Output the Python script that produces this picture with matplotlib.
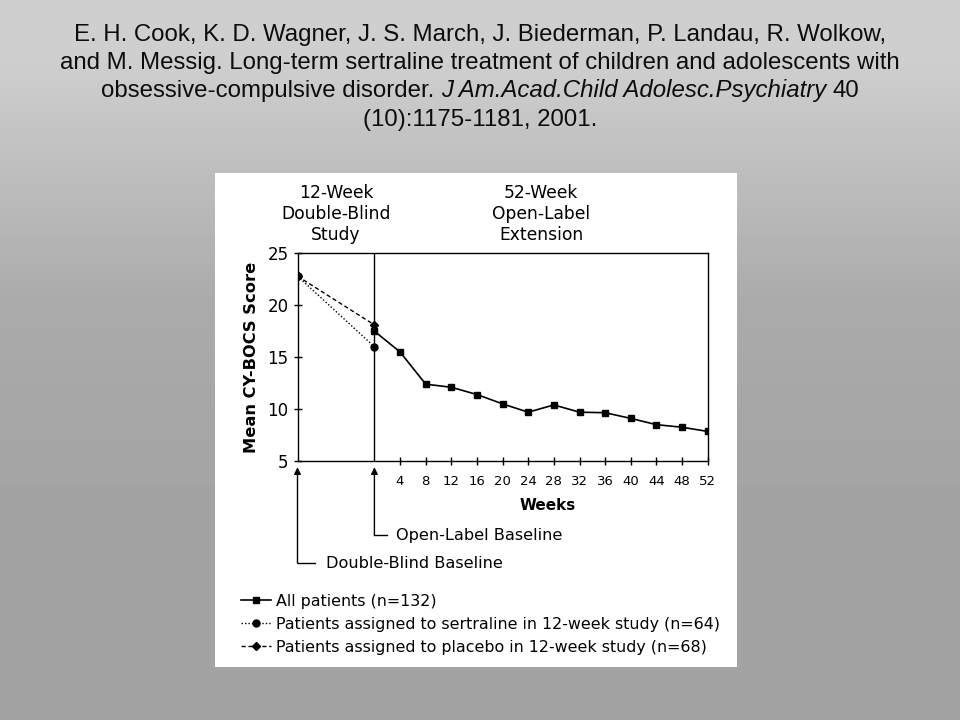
import matplotlib
matplotlib.use("Agg")
import matplotlib.pyplot as plt
from matplotlib.patches import Rectangle
import numpy as np

plt.rcParams['font.family'] = ['Liberation Sans', 'DejaVu Sans']

# values
weeks_all = [0, 4, 8, 12, 16, 20, 24, 28, 32, 36, 40, 44, 48, 52]
score_all = [17.5, 15.5, 12.4, 12.1, 11.4, 10.5, 9.7, 10.4, 9.7, 9.65, 9.1, 8.5, 8.25, 7.85]
weeks_db = [-12, 0]
score_sertraline = [22.8, 16.0]
score_placebo = [22.8, 18.1]

xticks = [4, 8, 12, 16, 20, 24, 28, 32, 36, 40, 44, 48, 52]
yticks = [5, 10, 15, 20, 25]

label_all = "All patients (n=132)"
label_sert = "Patients assigned to sertraline in 12-week study (n=64)"
label_plac = "Patients assigned to placebo in 12-week study (n=68)"

title_1 = "E. H. Cook, K. D. Wagner, J. S. March, J. Biederman, P. Landau, R. Wolkow,"
title_2 = "and M. Messig. Long-term sertraline treatment of children and adolescents with"
title_3a = "obsessive-compulsive disorder."
title_3b = "J Am.Acad.Child Adolesc.Psychiatry"
title_3c = "40"
title_4 = "(10):1175-1181, 2001."

W, H = 960, 720
fig = plt.figure(figsize=(9.6, 7.2), dpi=100)

# grey slide background
bg = fig.add_axes([0, 0, 1, 1], zorder=-5)
grad = np.array([[0.81], [0.74], [0.67], [0.65], [0.64], [0.64]])
bg.imshow(grad, cmap='gray', vmin=0, vmax=1, aspect='auto', extent=[0, 1, 0, 1],
          interpolation='bilinear')
bg.axis('off')

# white panel of the scanned figure
fig.add_artist(Rectangle((215 / W, 1 - 667 / H), (737 - 215) / W, (667 - 173) / H,
                         transform=fig.transFigure, facecolor='white',
                         edgecolor='none', zorder=-1))

# citation lines
tfs = 17.3
tc = '#0d0d0d'
fig.text(0.5, 1 - 41 / H, title_1, ha='center', va='baseline', fontsize=tfs, color=tc)
fig.text(0.5, 1 - 69 / H, title_2, ha='center', va='baseline', fontsize=tfs, color=tc)
fig.text(0.5, 1 - 126 / H, title_4, ha='center', va='baseline', fontsize=tfs, color=tc)

t3a = fig.text(0, 1 - 97 / H, title_3a, ha='left', va='baseline', fontsize=tfs, color=tc)
t3b = fig.text(0, 1 - 97 / H, title_3b, ha='left', va='baseline', fontsize=tfs,
               style='italic', color=tc)
t3c = fig.text(0, 1 - 97 / H, title_3c, ha='left', va='baseline', fontsize=tfs, color=tc)
r = fig.canvas.get_renderer()
wa = t3a.get_window_extent(r).width
wb = t3b.get_window_extent(r).width
wc = t3c.get_window_extent(r).width
tmp = fig.text(0, 0, "x x", fontsize=tfs)
tmp2 = fig.text(0, 0, "xx", fontsize=tfs)
sp = tmp.get_window_extent(r).width - tmp2.get_window_extent(r).width
tmp.remove()
tmp2.remove()
x0 = W / 2 - (wa + wb + wc + 2 * sp) / 2
t3a.set_x(x0 / W)
t3b.set_x((x0 + wa + sp) / W)
t3c.set_x((x0 + wa + wb + 2 * sp) / W)

# main axes (scanned figure uses a wide sans face)
cf = 'DejaVu Sans'
ax = fig.add_axes([297.5 / W, 1 - 461 / H, 410.2 / W, 207.7 / H])
ax.set_facecolor('white')

ax.axvline(0, color='k', lw=1.0)
l_plac, = ax.plot(weeks_db, score_placebo, color='k', ls=(0, (3, 2)), lw=1.0,
                  marker='D', ms=4.5, label=label_plac)
l_sert, = ax.plot(weeks_db, score_sertraline, color='k', ls=(0, (1, 1.5)), lw=1.0,
                  marker='o', ms=5, label=label_sert)
l_all, = ax.plot(weeks_all, score_all, color='k', ls='-', lw=1.2,
                 marker='s', ms=5, label=label_all)

ax.set_xlim(-12, 52)
ax.set_ylim(5, 25)
ax.set_xticks(xticks)
ax.set_yticks(yticks)
ax.tick_params(direction='inout', length=6, width=1, color='k')
ax.tick_params(axis='x', pad=7, labelsize=9.5)
ax.tick_params(axis='y', pad=3.5, labelsize=12)
for lab in ax.get_xticklabels() + ax.get_yticklabels():
    lab.set_fontfamily(cf)
for s in ax.spines.values():
    s.set_linewidth(1.0)

ax.set_ylabel("Mean CY-BOCS Score", fontsize=11.7, fontweight='bold', va='center',
              family=cf)
ax.yaxis.set_label_coords(-0.112, 0.5)
ax.set_xlabel("Weeks", fontsize=11, fontweight='bold', va='center', family=cf)
ax.xaxis.set_label_coords(0.611, -0.212)

# phase headers above the plot
xt = ax.get_xaxis_transform()
ax.text(-6, 1.19, "12-Week\nDouble-Blind\nStudy", transform=xt, ha='center', va='center',
        fontsize=12.3, linespacing=1.2, family=cf)
ax.text(26, 1.19, "52-Week\nOpen-Label\nExtension", transform=xt, ha='center', va='center',
        fontsize=12.3, linespacing=1.2, family=cf)

# baseline arrows
arr = dict(arrowstyle='-|>', lw=1.0, color='k', shrinkA=0, shrinkB=0, mutation_scale=10)
ax.annotate('', xy=(-12, -0.03), xytext=(-12, -0.492), xycoords=xt, textcoords=xt,
            arrowprops=arr, annotation_clip=False)
ax.plot([-12, -9.3], [-0.492, -0.492], transform=xt, color='k', lw=1.0, clip_on=False)
ax.text(-7.6, -0.492, "Double-Blind Baseline", transform=xt, ha='left', va='center',
        fontsize=11.6, family=cf)
ax.annotate('', xy=(0, -0.03), xytext=(0, -0.357), xycoords=xt, textcoords=xt,
            arrowprops=arr, annotation_clip=False)
ax.plot([0, 1.9], [-0.357, -0.357], transform=xt, color='k', lw=1.0, clip_on=False)
ax.text(3.3, -0.357, "Open-Label Baseline", transform=xt, ha='left', va='center',
        fontsize=11.6, family=cf)

leg = ax.legend(handles=[l_all, l_sert, l_plac], loc='upper left',
                bbox_to_anchor=(241 / W, 1 - 594 / H), bbox_transform=fig.transFigure,
                frameon=False, prop={'family': cf, 'size': 11.4}, handlelength=1.9,
                handletextpad=0.3, labelspacing=0.5, borderpad=0, borderaxespad=0,
                numpoints=1)

fig.savefig("out.png", dpi=100)
